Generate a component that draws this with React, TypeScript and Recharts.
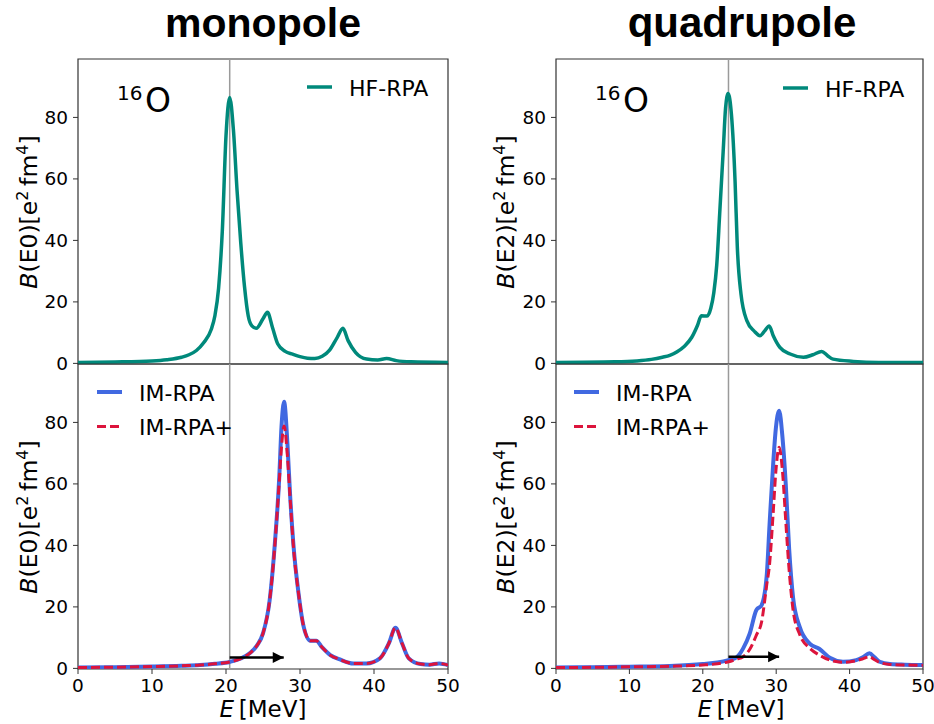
import { LineChart, Line, XAxis, YAxis, ReferenceLine, ReferenceArea } from "recharts";

// HF-RPA monopole (top left)
const monoHfE = [0, 5, 10, 12, 14, 15, 16, 17, 18, 18.5, 19, 19.5, 20, 20.5, 21, 21.5, 22, 22.5, 23, 23.5, 24.1, 25, 25.6, 26.3, 27, 28, 29, 30, 31, 32, 33, 34, 35, 35.8, 36.5, 37.5, 39, 40.5, 41.7, 43, 45, 50];
const monoHfB = [0.3, 0.45, 0.8, 1.2, 2.0, 2.8, 4.2, 6.8, 11, 15.5, 24.5, 43, 74, 86.5, 76, 56, 39, 25, 15.5, 12.2, 11.4, 14.5, 16.6, 11.5, 6.3, 3.9, 3.0, 2.2, 1.7, 1.6, 2.3, 4.3, 8.3, 11.4, 7.4, 3.6, 1.4, 1.1, 1.6, 0.9, 0.5, 0.3];

// HF-RPA quadrupole (top right)
const quadHfE = [0, 8, 11, 13, 14.5, 15.5, 16.5, 17.5, 18.5, 19.3, 19.8, 20.6, 21.1, 21.5, 21.9, 22.3, 22.8, 23.1, 23.45, 23.9, 24.4, 24.7, 25.2, 26, 27, 27.8, 28.4, 29.05, 29.6, 30.5, 31.9, 33.7, 35, 36.2, 37, 37.75, 40.5, 44, 50];
const quadHfB = [0.3, 0.5, 0.8, 1.3, 2.0, 2.6, 3.8, 5.6, 8.5, 12.5, 15.5, 15.4, 18, 23, 32, 48.6, 70, 83, 87.8, 81, 59, 38, 22.6, 13.9, 10.5, 9.0, 10.5, 12.2, 9.0, 5.2, 3.05, 2.0, 2.8, 3.9, 2.5, 1.4, 0.65, 0.3, 0.3];

// IM-RPA / IM-RPA+ monopole (bottom left)
const monoImE = [0, 5, 10, 14, 16.5, 18.5, 20.5, 22, 23.2, 24.2, 25, 25.9, 26.6, 27.2, 27.5, 27.85, 28.3, 28.65, 29.1, 29.8, 30.5, 31.4, 32.2, 33, 34.1, 35.4, 37.2, 39, 40.8, 42, 42.9, 43.8, 44.7, 46.3, 47.5, 48.8, 50];
const monoImB = [0.3, 0.4, 0.6, 0.85, 1.1, 1.5, 2.1, 3.2, 4.9, 7.5, 11.4, 22.2, 40.6, 62.3, 78.6, 86.7, 73.2, 56.9, 40.6, 24.4, 13.5, 9.0, 9.0, 6.8, 4.3, 2.9, 1.6, 1.6, 3.25, 8.1, 13.2, 8.1, 3.25, 1.4, 1.2, 1.6, 1.07];
const monoImPlusB = [0.3, 0.4, 0.6, 0.85, 1.1, 1.5, 2.1, 3.2, 4.9, 7.5, 11.4, 22.2, 40, 61, 72, 78.8, 69, 56, 40, 24.4, 13.5, 9.0, 9.0, 6.8, 4.3, 2.9, 1.6, 1.6, 3.25, 8.1, 13.2, 8.1, 3.25, 1.4, 1.2, 1.6, 1.07];

// IM-RPA / IM-RPA+ quadrupole (bottom right)
const quadImE = [0, 5, 10, 15.5, 20, 22, 23.5, 24.6, 25.5, 26.4, 27.3, 28.0, 28.7, 29.1, 29.6, 29.95, 30.4, 30.86, 31.3, 31.76, 32.3, 33.2, 34.6, 35.9, 37.3, 39.1, 40.9, 41.8, 42.7, 43.4, 44.1, 45.5, 47.5, 50];
const quadImB = [0.3, 0.4, 0.55, 0.8, 1.4, 1.9, 2.7, 3.6, 6.5, 11.4, 19.0, 20.5, 30, 47, 67, 78, 83.8, 75, 60, 39, 23, 13.5, 8, 6.3, 3.45, 2.15, 2.7, 3.6, 4.9, 3.6, 2.15, 1.4, 1.2, 1.1];
const quadImPlusB = [0.3, 0.35, 0.5, 0.7, 1.1, 1.5, 2.15, 3.0, 3.8, 6.2, 10.8, 15, 27, 34, 51, 64, 71.9, 64, 48, 32, 19, 11, 6.5, 4.3, 2.7, 2.0, 2.5, 3.1, 3.8, 2.8, 1.9, 1.3, 1.1, 1.0];

const xTicks = [0, 10, 20, 30, 40, 50];
const yTicks = [0, 20, 40, 60, 80];
const monoHfPeak = 20.5;
const quadHfPeak = 23.5;
const monoShift = [{ e: 20.5, b: 3.5 }, { e: 27.8, b: 3.5 }];
const quadShift = [{ e: 23.5, b: 3.8 }, { e: 30.4, b: 3.8 }];

const TEAL = "#00897b";
const BLUE = "#4169e1";
const RED = "#dc143c";
const FRAME = "#333";
const Y_DOMAIN = [-0.2, 99];
const TICK_FONT = { fontSize: 18.5, fill: "#000", fontFamily: "DejaVu Sans" };

type Row = { e: number; a: number; b?: number };
const rows = (es: number[], a: number[], b?: number[]): Row[] =>
  es.map((e, i) => ({ e, a: a[i], b: b ? b[i] : undefined }));

type Series = { key: string; color: string; width: number; dash?: string };

const arrowHead = (props: any) => {
  const { cx, cy, index } = props;
  if (index !== 1) return <g key={`ah${index}`} />;
  return <path key="ah" d={`M${cx - 11},${cy - 5.5} L${cx},${cy} L${cx - 11},${cy + 5.5} Z`} fill="#000" />;
};

interface PanelProps {
  left: number;
  top: number;
  width: number;
  height: number;
  data: Row[];
  series: Series[];
  vline: number;
  arrow?: { e: number; b: number }[];
  showX: boolean;
}

const Panel = ({ left, top, width, height, data, series, vline, arrow, showX }: PanelProps) => {
  const padL = 70;
  const padR = 20;
  const padT = 10;
  const padB = showX ? 34 : 10;
  return (
    <div style={{ position: "absolute", left: left - padL, top: top - padT }}>
      <LineChart
        width={width + padL + padR}
        height={height + padT + padB}
        data={data}
        margin={{ top: padT, right: padR, bottom: 0, left: 0 }}
      >
        <XAxis
          dataKey="e"
          type="number"
          domain={[0, 50]}
          allowDataOverflow
          ticks={xTicks}
          height={padB}
          axisLine={false}
          tick={showX ? TICK_FONT : false}
          tickLine={showX ? { stroke: FRAME } : false}
          tickSize={5}
          tickMargin={5}
        />
        <YAxis
          type="number"
          domain={Y_DOMAIN}
          allowDataOverflow
          ticks={yTicks}
          width={padL}
          axisLine={false}
          tick={TICK_FONT}
          tickLine={{ stroke: FRAME }}
          tickSize={5}
          tickMargin={5}
        />
        <ReferenceLine x={vline} stroke="#9a9a9a" strokeWidth={1.5} />
        {series.map((s) => (
          <Line
            key={s.key}
            dataKey={s.key}
            type="monotone"
            stroke={s.color}
            strokeWidth={s.width}
            strokeDasharray={s.dash}
            dot={false}
            activeDot={false}
            isAnimationActive={false}
          />
        ))}
        {arrow && (
          <Line
            data={arrow}
            dataKey="b"
            stroke="#000"
            strokeWidth={2.5}
            dot={arrowHead}
            activeDot={false}
            isAnimationActive={false}
          />
        )}
        <ReferenceArea
          x1={0}
          x2={50}
          y1={Y_DOMAIN[0]}
          y2={Y_DOMAIN[1]}
          fill="none"
          fillOpacity={0}
          stroke={FRAME}
          strokeWidth={1.2}
          ifOverflow="visible"
        />
      </LineChart>
    </div>
  );
};

const YLabel = ({ x, y, n }: { x: number; y: number; n: string }) => (
  <text transform={`translate(${x},${y}) rotate(-90)`} textAnchor="middle" fontSize={23.5}>
    <tspan fontStyle="italic">B</tspan>
    <tspan>{`(E${n})[e`}</tspan>
    <tspan fontSize={16} dy={-9}>2</tspan>
    <tspan dy={9}>{"\u2009fm"}</tspan>
    <tspan fontSize={16} dy={-9}>4</tspan>
    <tspan dy={9}>]</tspan>
  </text>
);

const XLabel = ({ x, y }: { x: number; y: number }) => (
  <text x={x} y={y} textAnchor="middle" fontSize={23}>
    <tspan fontStyle="italic">E</tspan>
    <tspan>{"\u2009[MeV]"}</tspan>
  </text>
);

const Nucleus = ({ x, y }: { x: number; y: number }) => (
  <g>
    <text x={x} y={y - 12} fontSize={20}>16</text>
    <text x={x + 28} y={y} fontSize={33}>O</text>
  </g>
);

const LegendRow = ({ x, y, color, dash, width, label }: { x: number; y: number; color: string; dash?: string; width: number; label: string }) => (
  <g>
    <line x1={x} x2={x + 25} y1={y} y2={y} stroke={color} strokeWidth={width} strokeDasharray={dash} />
    <text x={x + 42} y={y + 8.5} fontSize={22}>{label}</text>
  </g>
);

const App = () => {
  const L = { left: 78, width: 370 };
  const R = { left: 556, width: 367 };
  const T = { top: 59, height: 305 };
  const B = { top: 364, height: 305 };
  return (
    <div style={{ position: "absolute", left: 0, top: 0, width: 934, height: 724, overflow: "hidden", background: "#fff", fontFamily: "DejaVu Sans" }}>
      <Panel {...L} {...T} data={rows(monoHfE, monoHfB)} series={[{ key: "a", color: TEAL, width: 3.5 }]} vline={monoHfPeak} showX={false} />
      <Panel {...R} {...T} data={rows(quadHfE, quadHfB)} series={[{ key: "a", color: TEAL, width: 3.5 }]} vline={quadHfPeak} showX={false} />
      <Panel
        {...L}
        {...B}
        data={rows(monoImE, monoImB, monoImPlusB)}
        series={[
          { key: "a", color: BLUE, width: 4 },
          { key: "b", color: RED, width: 3, dash: "9 4" },
        ]}
        vline={monoHfPeak}
        arrow={monoShift}
        showX
      />
      <Panel
        {...R}
        {...B}
        data={rows(quadImE, quadImB, quadImPlusB)}
        series={[
          { key: "a", color: BLUE, width: 4 },
          { key: "b", color: RED, width: 3, dash: "9 4" },
        ]}
        vline={quadHfPeak}
        arrow={quadShift}
        showX
      />
      <svg width={934} height={724} style={{ position: "absolute", left: 0, top: 0, pointerEvents: "none" }} fontFamily="DejaVu Sans">
        <text x={263} y={37} textAnchor="middle" fontSize={41} fontWeight="bold" fontFamily="Liberation Sans, Arial, sans-serif">monopole</text>
        <text x={742} y={37} textAnchor="middle" fontSize={42} fontWeight="bold" fontFamily="Liberation Sans, Arial, sans-serif">quadrupole</text>
        <Nucleus x={117} y={112} />
        <Nucleus x={595} y={112} />
        <LegendRow x={307} y={87} color={TEAL} width={3.5} label="HF-RPA" />
        <LegendRow x={783} y={88} color={TEAL} width={3.5} label="HF-RPA" />
        <LegendRow x={97} y={392} color={BLUE} width={4} label="IM-RPA" />
        <LegendRow x={97} y={426.5} color={RED} width={3} dash="9 4" label="IM-RPA+" />
        <LegendRow x={574} y={392} color={BLUE} width={4} label="IM-RPA" />
        <LegendRow x={574} y={426.5} color={RED} width={3} dash="9 4" label="IM-RPA+" />
        <YLabel x={37} y={212} n="0" />
        <YLabel x={37} y={517} n="0" />
        <YLabel x={514} y={212} n="2" />
        <YLabel x={514} y={517} n="2" />
        <XLabel x={263} y={717} />
        <XLabel x={741} y={717} />
      </svg>
    </div>
  );
};

export default App;
